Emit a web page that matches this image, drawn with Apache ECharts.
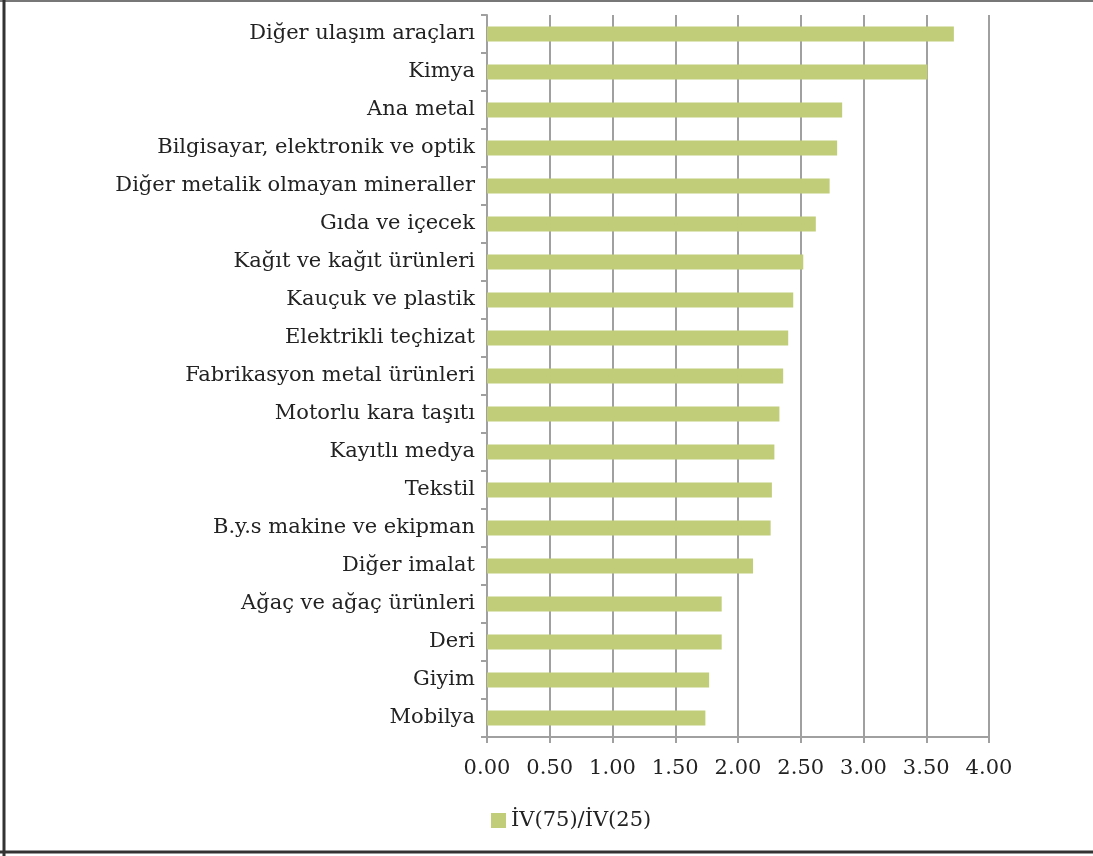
<!DOCTYPE html>
<html>
<head>
<meta charset="utf-8">
<script src="https://cdn.jsdelivr.net/npm/echarts@6/dist/echarts.min.js"></script>
<style>
  html, body { margin: 0; padding: 0; background: #fff; }
  #chart { width: 1093px; height: 856px; }
</style>
</head>
<body>
<div id="chart"></div>
<script>
// sectors, top to bottom as in the picture
const sectors = [
    'Diğer ulaşım araçları', 'Kimya', 'Ana metal', 'Bilgisayar, elektronik ve optik',
    'Diğer metalik olmayan mineraller', 'Gıda ve içecek', 'Kağıt ve kağıt ürünleri',
    'Kauçuk ve plastik', 'Elektrikli teçhizat', 'Fabrikasyon metal ürünleri',
    'Motorlu kara taşıtı', 'Kayıtlı medya', 'Tekstil', 'B.y.s makine ve ekipman',
    'Diğer imalat', 'Ağaç ve ağaç ürünleri', 'Deri', 'Giyim', 'Mobilya'
];
const ratio = [
    3.72, 3.51, 2.83, 2.79, 2.73, 2.62, 2.52, 2.44, 2.40, 2.36,
    2.33, 2.29, 2.27, 2.26, 2.12, 1.87, 1.87, 1.77, 1.74
];
const seriesName = 'İV(75)/İV(25)';

const font = '"DejaVu Serif", "Liberation Serif", serif';

const chart = echarts.init(document.getElementById('chart'));
chart.setOption({
    animation: false,
    textStyle: { fontFamily: font },
    grid: { left: 487, right: 104, top: 15, bottom: 119 },
    legend: {
        data: [seriesName],
        left: 486, top: 805,
        icon: 'rect', itemWidth: 15, itemHeight: 15, itemGap: 5,
        textStyle: { fontFamily: font, fontSize: 21, color: '#222' }
    },
    xAxis: {
        type: 'value', min: 0, max: 4, interval: 0.5,
        axisLine: { show: true, lineStyle: { color: '#a0a0a0', width: 2 } },
        axisTick: { show: true, length: 6, lineStyle: { color: '#a0a0a0', width: 2 } },
        splitLine: { show: true, lineStyle: { color: '#a0a0a0', width: 2 } },
        axisLabel: {
            formatter: v => v.toFixed(2),
            fontFamily: font, fontSize: 21, color: '#222', margin: 21
        }
    },
    yAxis: {
        type: 'category', inverse: true, data: sectors,
        axisLine: { show: true, lineStyle: { color: '#a0a0a0', width: 2 } },
        axisTick: { show: true, length: 6, lineStyle: { color: '#a0a0a0', width: 2 } },
        axisLabel: { fontFamily: font, fontSize: 21, color: '#222', margin: 12 }
    },
    series: [{
        name: seriesName, type: 'bar', data: ratio,
        barWidth: 15,
        itemStyle: { color: '#c1cd79' }
    }],
    graphic: [
        { type: 'line', shape: { x1: 0, y1: 1, x2: 1093, y2: 1 }, style: { stroke: '#777', lineWidth: 2 } },
        { type: 'line', shape: { x1: 4, y1: 0, x2: 4, y2: 856 }, style: { stroke: '#333', lineWidth: 3 } },
        { type: 'line', shape: { x1: 0, y1: 852, x2: 1093, y2: 852 }, style: { stroke: '#333', lineWidth: 3 } }
    ]
});
</script>
</body>
</html>
